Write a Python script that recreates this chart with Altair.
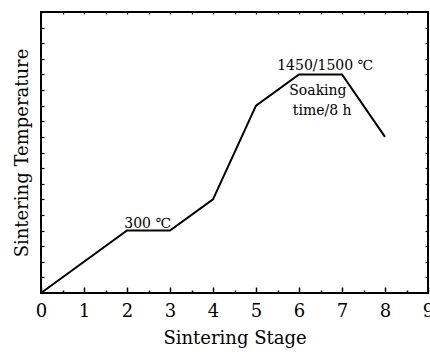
import altair as alt
import pandas as pd

# ---- data ----
stages = [0, 2, 3, 4, 5, 6, 7, 8]
temps = [0, 4, 4, 6, 12, 14, 14, 10]

x_major = [0, 1, 2, 3, 4, 5, 6, 7, 8, 9]
x_all = [0, 0.5, 1, 1.5, 2, 2.5, 3, 3.5, 4, 4.5, 5, 5.5, 6, 6.5, 7, 7.5, 8, 8.5, 9]
y_all = list(range(0, 19))

ann_x = [2.48, 6.61, 6.44, 6.54]
ann_y = [4.15, 14.26, 12.7, 11.42]
ann_text = ["300 ℃", "1450/1500 ℃", "Soaking", "time/8 h"]

df = pd.DataFrame({"stage": stages, "temp": temps})
ann = pd.DataFrame({"x": ann_x, "y": ann_y, "t": ann_text})

W, H = 387, 281
FONT = "DejaVu Serif"

xs = alt.Scale(domain=[0, 9], nice=False, zero=False)
ys = alt.Scale(domain=[0, 18], nice=False, zero=False)

major_minor = {"condition": {"test": "datum.value % 1 === 0", "value": 6}, "value": 3}

main = alt.Chart(df).mark_line(color="black", strokeWidth=2).encode(
    x=alt.X("stage:Q", scale=xs, axis=alt.Axis(
        orient="bottom", values=x_major, ticks=False, domain=False, format="d",
        labelFlush=False, labelOverlap=False,
        labelPadding=9, labelFontSize=18, labelFont=FONT, labelColor="black",
        title="Sintering Stage", titleFont=FONT, titleFontSize=18,
        titleFontWeight="normal", titleColor="black", titlePadding=9)),
    y=alt.Y("temp:Q", scale=ys, axis=alt.Axis(
        orient="left", labels=False, ticks=False, domain=False,
        title="Sintering Temperature", titleFont=FONT, titleFontSize=18,
        titleFontWeight="normal", titleColor="black", titlePadding=10)),
)

# inward ticks on bottom edge and right edge
ticks_a = alt.Chart(df).mark_line(strokeOpacity=0).encode(
    x=alt.X("stage:Q", scale=xs, axis=alt.Axis(
        orient="top", offset=-H, values=x_all, labels=False, domain=False,
        title=None, tickSize=major_minor, tickColor="black", tickWidth=1.5)),
    y=alt.Y("temp:Q", scale=ys, axis=alt.Axis(
        orient="left", offset=-W, values=y_all, labels=False, domain=False,
        title=None, tickSize=3, tickColor="black", tickWidth=1.2)),
)

# inward ticks on top edge and left edge
ticks_b = alt.Chart(df).mark_line(strokeOpacity=0).encode(
    x=alt.X("stage:Q", scale=xs, axis=alt.Axis(
        orient="bottom", offset=-H, values=x_all, labels=False, domain=False,
        title=None, tickSize=2, tickColor="black", tickWidth=1.2)),
    y=alt.Y("temp:Q", scale=ys, axis=alt.Axis(
        orient="right", offset=-W, values=y_all, labels=False, domain=False,
        title=None, tickSize=3, tickColor="black", tickWidth=1.2)),
)

labels = alt.Chart(ann).mark_text(
    font=FONT, fontSize=14, align="center", baseline="alphabetic", color="black"
).encode(
    x=alt.X("x:Q", scale=xs, axis=None),
    y=alt.Y("y:Q", scale=ys, axis=None),
    text="t:N",
)

chart = alt.layer(main, ticks_a, ticks_b, labels).resolve_axis(
    x="independent", y="independent"
).properties(
    width=W, height=H,
    autosize=alt.AutoSizeParams(type="none"),
    padding={"left": 41, "top": 12, "right": 2, "bottom": 61},
).configure_view(stroke="black", strokeWidth=2).configure_axis(grid=False)

chart.save("out.html", embed_options={"renderer": "svg", "actions": False})
